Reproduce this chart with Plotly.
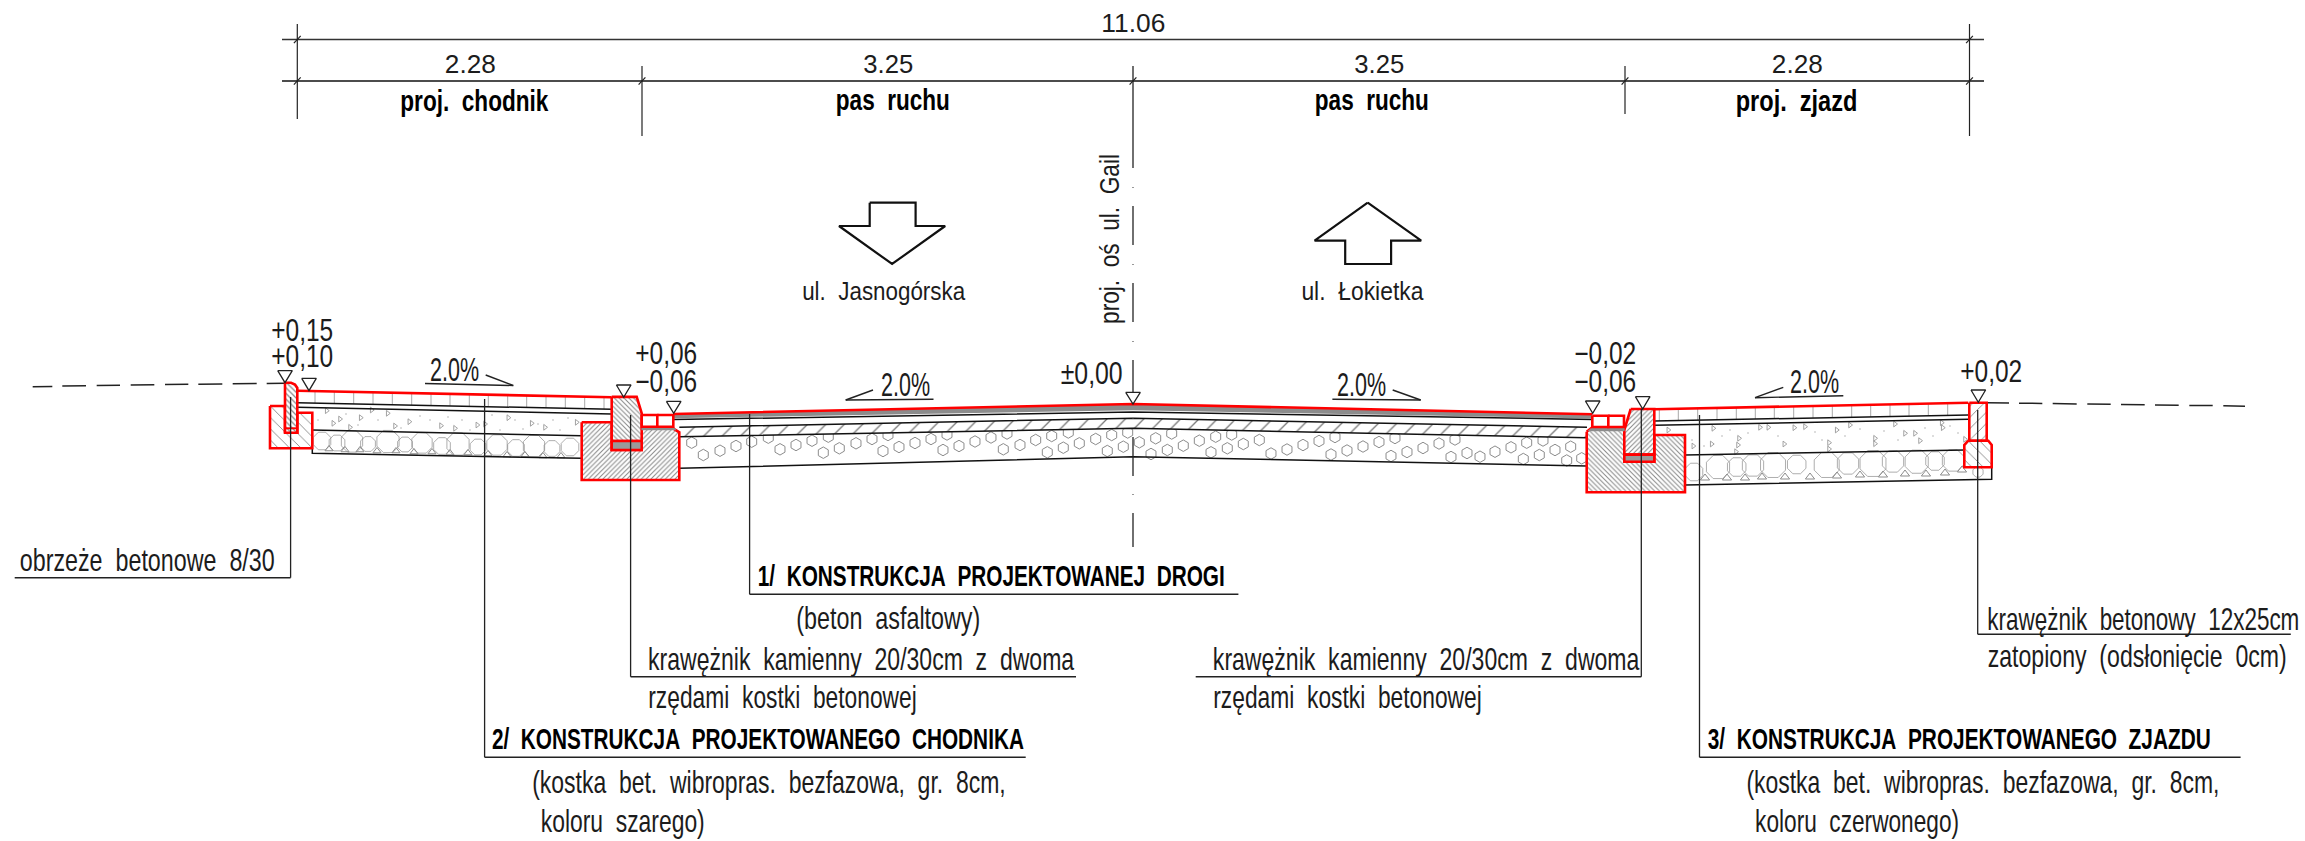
import json
import plotly.graph_objects as go

NB = "\u00a0"
S2 = NB + NB
BLACK = "#111111"
RED = "#ff0000"
FONT = "Liberation Sans"

# ---------- dimension lines (drawing units) ----------
DIM_X = [297.3, 642, 1133, 1625, 1969.5]
DIM_TOP_Y = 39.5
DIM_LOW_Y = 81
DIM_LEFT = 282
DIM_RIGHT = 1984
EXT_X = [297.3, 642, 1625, 1969.5]
EXT_Y0 = [24, 66, 66, 24]
EXT_Y1 = [119, 136, 114, 136]

# centre line dash-dot pieces
AXIS_PIECES_Y0 = [66, 206, 283, 360, 437, 513]
AXIS_PIECES_Y1 = [168, 245, 322, 393, 476, 547]
AXIS_DOTS_Y = [187, 264, 341, 418, 494]
AXIS_X = 1133

# terrain dashes
TERRAIN_L_X = [32.7, 52.3, 62.3, 86, 96.7, 120, 130.7, 154.3, 165, 188.3, 198.3, 222.3, 232.7, 256.7, 266.7, 285]
TERRAIN_L_Y = [386.7, 386.4, 386, 385.8, 385.5, 385.2, 385, 384.7, 384.6, 384.3, 384.2, 383.9, 383.8, 383.5, 383.4, 383.2]
TERRAIN_R_X = [1987, 2009, 2019, 2042.3, 2052.7, 2076.7, 2087.3, 2110.7, 2121, 2144.7, 2155, 2178.7, 2189.3, 2212.7, 2223.3, 2245]
TERRAIN_R_Y = [402.7, 402.9, 403.2, 403.4, 403.6, 403.9, 404, 404.3, 404.4, 404.7, 404.9, 405.2, 405.4, 405.6, 405.8, 406.3]

# ---------- pavement layers ----------
WALK_TOP_X = [297.3, 611.7]
WALK_TOP_Y = [390.7, 397.3]
WALK_L1_X = [297.3, 611.7]
WALK_L1_Y = [402.7, 409.3]
WALK_L2_X = [297.3, 611.7]
WALK_L2_Y = [407.3, 414]
WALK_L3_X = [312.3, 581.7]
WALK_L3_Y = [430, 435.7]
WALK_L4_X = [312.3, 312.3, 581.7]
WALK_L4_Y = [448.3, 453.3, 458.3]
WALK_JOINT_X = [315, 334.3, 353.7, 373, 392.3, 411.7, 431, 450, 469.3, 488.3, 507.7, 526.7, 546, 565.3, 584.7, 604]
WALK_JOINT_TOP = [391, 391.5, 391.9, 392.3, 392.7, 393.1, 393.5, 393.9, 394.3, 394.7, 395.1, 395.5, 395.9, 396.3, 396.8, 397.2]
WALK_JOINT_BOT = [403, 403.5, 403.9, 404.3, 404.7, 405.1, 405.5, 405.9, 406.3, 406.7, 407.1, 407.5, 407.9, 408.3, 408.8, 409.2]

DRIVE_TOP_X = [1654.3, 1968.3]
DRIVE_TOP_Y = [409.3, 402.7]
DRIVE_L1_X = [1654.3, 1968.3]
DRIVE_L1_Y = [421, 415]
DRIVE_L2_X = [1654.3, 1968.3]
DRIVE_L2_Y = [425.3, 419.3]
DRIVE_L3_X = [1685, 1965]
DRIVE_L3_Y = [455, 450]
DRIVE_L4_X = [1685, 1991.7, 1991.7]
DRIVE_L4_Y = [485, 479.3, 466.7]
DRIVE_JOINT_X = [1659.3, 1678.3, 1697.7, 1717, 1736.3, 1755.3, 1774.3, 1793.7, 1813, 1832.3, 1851.7, 1870.7, 1890, 1909, 1928.3, 1947.7]
DRIVE_JOINT_TOP = [409.2, 408.8, 408.4, 408, 407.6, 407.2, 406.8, 406.4, 406, 405.5, 405.1, 404.7, 404.3, 403.9, 403.5, 403.1]
DRIVE_JOINT_BOT = [420.9, 420.5, 420.1, 419.8, 419.4, 419, 418.7, 418.3, 417.9, 417.6, 417.2, 416.8, 416.5, 416.1, 415.7, 415.4]

ROAD_X = [673.3, 1133, 1592.3]
ROAD_TOP_Y = [414, 404, 414.3]
ROAD_GREY_BOT_Y = [418.2, 410.2, 418.4]
ROAD_A_Y = [419.6, 412, 419.4]
ROAD_B_X = [679.3, 1133, 1587]
ROAD_B_Y = [427.3, 418.3, 427.3]
ROAD_C_X = [679.3, 1133, 1587]
ROAD_C_Y = [436.7, 428.3, 437.7]
ROAD_D_X = [679.3, 1133, 1587]
ROAD_D_Y = [468.3, 456.7, 466]

# ---------- kerbs / foundations ----------
EDGE_X = [285, 285, 291, 295, 297.3, 297.3]
EDGE_Y = [432.7, 382.7, 382.7, 384.5, 388, 432.7]
EDGE_BED_X = [285, 297.3]
EDGE_BED_Y = [428.3, 428.3]
EDGE_F_X = [270, 285, 285, 297.3, 297.3, 312.3, 312.3, 270]
EDGE_F_Y = [406, 406, 432.7, 432.7, 412.7, 412.7, 448.3, 448.3]

KERB_L_X = [611.7, 636.7, 641.7, 641.7, 611.7]
KERB_L_Y = [396.9, 396.9, 413.3, 441, 441]
KERB_L_BED_X = [611.7, 641.7, 641.7, 611.7]
KERB_L_BED_Y = [441, 441, 450, 450]
FOUND_L_X = [581.7, 611.7, 611.7, 641.7, 641.7, 673.3, 679.3, 679.3, 581.7]
FOUND_L_Y = [422.3, 422.3, 450, 450, 428.6, 428.6, 432.3, 480, 480]
BLOCK_L_X = [641.7, 657.3, 673.3]
BLOCK_L_Y0 = 415
BLOCK_L_Y1 = 426.7
BAND_L_X = [641.7, 673.3, 676, 641.7]
BAND_L_Y = [426.7, 426.7, 430, 430]

KERB_R_X = [1630.7, 1654.3, 1654.3, 1624.3, 1624.3]
KERB_R_Y = [409, 409, 454.6, 454.6, 430]
KERB_R_BED_X = [1624.3, 1654.3, 1654.3, 1624.3]
KERB_R_BED_Y = [454.6, 454.6, 461.7, 461.7]
FOUND_R_X = [1586.7, 1591.7, 1624.3, 1624.3, 1654.3, 1654.3, 1685, 1685, 1586.7]
FOUND_R_Y = [431.7, 427.7, 427.7, 461.7, 461.7, 435, 435, 492.3, 492.3]
BLOCK_R_X = [1592.3, 1608.3, 1624]
BLOCK_R_Y0 = 415.7
BLOCK_R_Y1 = 427
BAND_R_X = [1591.7, 1624.3, 1624.3, 1588]
BAND_R_Y = [427.7, 427.7, 431, 431]

END_X = [1969.3, 1986.7, 1986.7, 1969.3]
END_Y = [402.7, 402.7, 440.7, 440.7]
END_F_X = [1968.3, 1988.3, 1991.7, 1991.7, 1964.3, 1964.3]
END_F_Y = [440.7, 440.7, 445, 467.3, 467.3, 445]

# ---------- aggregates ----------
ROAD_STONE_X = [691.7, 703.3, 720, 736, 751.7, 768.3, 780, 796, 812, 828.3, 823.3, 839.3, 856, 872, 888,
                883, 899, 915, 931, 947, 943, 959, 975, 991, 1007, 1003.3, 1020, 1035.7, 1051.7, 1068.3,
                1047.3, 1063.3, 1079.3, 1095.7, 1111.7, 1127.7, 1107.3, 1123.3, 1139.3, 1155.7, 1171.7,
                1151, 1167.3, 1183.3, 1199.3, 1215.7, 1231.7, 1211, 1227.3, 1243.3, 1259.3,
                1271, 1287, 1303, 1319, 1335, 1331, 1347, 1363, 1379, 1395, 1391, 1407, 1423, 1439, 1455,
                1451, 1467, 1480, 1495, 1511, 1526.7, 1543, 1523.3, 1539.3, 1555, 1570.7, 1566.7, 1581.7]
ROAD_STONE_Y = [442.7, 455, 450.7, 446, 441.7, 437.7, 449.3, 445, 440.7, 436.7, 452.7, 448.3, 443.3, 439, 435,
                451, 447, 443, 439, 434.5, 450, 446, 441.5, 437.5, 433.5, 449.3, 445, 440, 436, 432.5,
                452.3, 447.7, 443.3, 439, 435, 432.5, 451, 446.7, 442.3, 438.3, 433.5,
                454, 450, 445.7, 440.7, 436.7, 434.5, 452.3, 448.3, 444, 440,
                453.5, 449.5, 445, 441, 437, 454.5, 450.5, 446.5, 442, 438, 456, 452, 448, 443.5, 439.5,
                457, 453, 456.7, 451.7, 447.3, 442.7, 440.5, 459, 455, 450, 446.7, 460.5, 458.3]

WALK_STONE_X = [322, 337, 352, 368, 388, 405, 422, 442, 458, 478, 497, 516, 534, 552, 570]
WALK_STONE_Y = [441, 443, 441.5, 444, 441.5, 444.5, 443, 446, 444, 447, 445, 448, 446, 448.5, 447]
WALK_STONE_S = [19, 17, 23, 16, 24, 16, 22, 18, 24, 17, 22, 18, 23, 17, 19]
WALK_CHIP_X = [329, 345, 360, 377, 396, 414, 432, 450, 468, 488, 507, 525, 543, 561]
WALK_CHIP_Y = [449, 450, 450, 451, 451, 452, 452, 453, 453, 454, 455, 455, 456, 456]

DRIVE_STONE_X = [1694, 1718, 1736.7, 1753, 1773, 1796.7, 1826.7, 1848, 1873, 1893, 1916.7, 1935, 1953, 1978]
DRIVE_STONE_Y = [472, 467, 467, 465.5, 465, 464.5, 465, 463.5, 463.5, 461.5, 461.7, 461, 460.5, 472]
DRIVE_STONE_S = [19, 25, 20, 23, 27, 20, 27, 23, 28, 23, 25, 20, 23, 11]
DRIVE_CHIP_X = [1705, 1727, 1745, 1762, 1785, 1810, 1837, 1860, 1883, 1905, 1926, 1945, 1962]
DRIVE_CHIP_Y = [478, 478, 478, 477, 477, 477, 476, 475, 475, 474, 474, 473, 470]

CHIP_WALK_X = [326.7, 340, 360.7, 371.7, 387.7, 409.3, 441, 455, 477.3, 485, 508.3, 531.7, 545, 576.7, 333.3, 350, 395]
CHIP_WALK_Y = [410.7, 419, 417.7, 410, 413.3, 421.7, 425.7, 428.3, 425, 424, 417.7, 423.3, 427.3, 422.3, 423.3, 427.3, 426]
CHIP_DRIVE_X = [1668.3, 1713.3, 1760, 1768.3, 1794.3, 1805, 1836.7, 1850, 1895, 1905, 1941.7, 1942.7, 1920, 1915, 1875, 1875, 1829, 1829, 1784.3, 1739, 1738, 1736, 1711.7, 1693.3, 1965]
CHIP_DRIVE_Y = [430, 428.3, 427.3, 427.3, 427.7, 426.7, 430, 425, 424, 433.3, 422.7, 427.7, 440.7, 433.3, 438.3, 443.7, 449, 442.7, 444, 438.3, 445, 451.7, 444, 446, 439.3]
SPECK_X = [318, 346, 358, 378, 401, 420, 430, 448, 462, 470, 492, 500, 515, 523, 538, 553, 560, 568,
           1692, 1704, 1722, 1730, 1748, 1778, 1815, 1822, 1845, 1860, 1884, 1898, 1925, 1933, 1950, 1958]
SPECK_Y = [420, 414, 425, 420, 428, 416, 420, 417, 420, 430, 415, 430, 420, 429, 424, 420, 430, 418,
           440, 446, 436, 430, 433, 436, 432, 440, 436, 429, 431, 440, 428, 436, 426, 433]

# ---------- elevation triangles (tip x, tip y) ----------
MARK_TIP_X = [285, 309, 623.7, 673.7, 1133, 1592.7, 1642.7, 1978.3]
MARK_TIP_Y = [382.7, 390.7, 397.3, 413.3, 404, 413.3, 409, 402.3]
MARK_TOP_Y = [370.7, 378.3, 385, 401.3, 392.3, 401, 396.7, 390]

# ---------- slope symbols ----------
SLOPE_BASE_X0 = [425, 845.7, 1332.4, 1755]
SLOPE_BASE_Y0 = [383.5, 400, 399.3, 397.7]
SLOPE_BASE_X1 = [513.3, 933.5, 1420.7, 1843.3]
SLOPE_BASE_Y1 = [385.5, 399.3, 400, 395.7]
SLOPE_TICK_X0 = [485.7, 873, 1392.7, 1783.3]
SLOPE_TICK_Y0 = [375, 390, 390, 387.3]

# ---------- direction arrows ----------
ARROW_DOWN_X = [869.7, 915.6, 915.6, 945.2, 892.1, 839, 869.7, 869.7]
ARROW_DOWN_Y = [202.7, 202.7, 226, 226, 264, 226, 226, 202.7]
ARROW_UP_X = [1367.7, 1421.2, 1391.1, 1391.1, 1345.2, 1345.2, 1314.6, 1367.7]
ARROW_UP_Y = [202.7, 240.7, 240.7, 264, 264, 240.7, 240.7, 202.7]

# ---------- leaders ----------
LEADER_X = [290.6, 484.6, 630.6, 749.6, 1641.3, 1699.5, 1977.7]
LEADER_Y0 = [397, 399, 415, 414, 409, 415, 410]
LEADER_Y1 = [577.7, 757.3, 676.7, 594.3, 676.7, 757.3, 634.3]
SHELF_X0 = [14.7, 484.6, 630.6, 749.6, 1195.7, 1699.5, 1977.7]
SHELF_X1 = [290.6, 1025.7, 1076, 1238.4, 1641.3, 2240.6, 2290.8]

# ---------- texts ----------
TEXT_STRINGS = [
    "11.06", "2.28", "3.25", "3.25", "2.28",
    f"proj.{S2}chodnik", f"pas{S2}ruchu", f"pas{S2}ruchu", f"proj.{S2}zjazd",
    f"ul.{S2}Jasnogórska", f"ul.{S2}Łokietka",
    "±0,00", "+0,15", "+0,10", "+0,06", "−0,06", "−0,02", "−0,06", "+0,02",
    "2.0%", "2.0%", "2.0%", "2.0%",
    f"obrzeże{S2}betonowe{S2}8/30",
    f"1/{S2}KONSTRUKCJA{S2}PROJEKTOWANEJ{S2}DROGI",
    f"(beton{S2}asfaltowy)",
    f"krawężnik{S2}kamienny{S2}20/30cm{S2}z{S2}dwoma",
    f"rzędami{S2}kostki{S2}betonowej",
    f"2/{S2}KONSTRUKCJA{S2}PROJEKTOWANEGO{S2}CHODNIKA",
    f"(kostka{S2}bet.{S2}wibropras.{S2}bezfazowa,{S2}gr.{S2}8cm,",
    f"koloru{S2}szarego)",
    f"krawężnik{S2}kamienny{S2}20/30cm{S2}z{S2}dwoma",
    f"rzędami{S2}kostki{S2}betonowej",
    f"3/{S2}KONSTRUKCJA{S2}PROJEKTOWANEGO{S2}ZJAZDU",
    f"(kostka{S2}bet.{S2}wibropras.{S2}bezfazowa,{S2}gr.{S2}8cm,",
    f"koloru{S2}czerwonego)",
    f"krawężnik{S2}betonowy{S2}12x25cm",
    f"zatopiony{S2}(odsłonięcie{S2}0cm)",
]
TEXT_X = [1133, 470, 888, 1379, 1797, 474.5, 893, 1371.5, 1796, 883.7, 1362,
          1091.5, 301.5, 301.5, 666, 666, 1604.5, 1604.5, 1990.5,
          454, 905, 1361.5, 1814.7,
          146.7, 991.5, 888.7, 860.8, 782, 757.5, 768.5, 622, 1426, 1347, 1959, 1983, 1856.5, 2143.3, 2137]
TEXT_Y = [22.7, 64.3, 64.3, 64.3, 64.3, 100.7, 99.3, 99.3, 100, 291, 291,
          373, 330.7, 356.7, 353.3, 381.7, 353.3, 381.7, 371.7,
          369, 384, 384, 381,
          560, 575, 617.7, 659, 696.7, 738, 781.7, 820.7, 659, 696.7, 738, 781.7, 820.7, 619.3, 655.7]
TEXT_SIZE = [25, 25, 25, 25, 25, 30, 30, 30, 30, 26, 26,
             31, 31, 31, 31, 31, 31, 31, 31,
             33, 33, 33, 33,
             32, 30, 32, 32, 32, 30, 32, 32, 32, 32, 30, 32, 32, 32, 32]
TEXT_BOLD = [False, False, False, False, False, True, True, True, True, False, False,
             False, False, False, False, False, False, False, False,
             False, False, False, False,
             False, True, False, False, False, True, False, False, False, False, True, False, False, False, False]
TEXT_WIDTH = [64, 51, 50, 50, 51, 148, 114, 114, 121.5, 163, 122,
              62, 62, 62, 62, 62, 62, 62, 62,
              49, 49, 49, 49,
              255, 467, 184, 426, 268.5, 532, 473.5, 164, 426.5, 268.5, 503, 473, 204, 312, 299]
AXIS_LABEL = f"proj.{S2}oś{S2}ul.{S2}Gail"
AXIS_LABEL_WIDTH = 170

fig = go.Figure()


def line(xs, ys, color=BLACK, width=1.5):
    fig.add_trace(go.Scatter(x=xs, y=ys, mode="lines", line=dict(color=color, width=width),
                             hoverinfo="skip", showlegend=False))


def poly(xs, ys, shape=None, size=4, solidity=0.25, fg="#555555", bg="#ffffff", fill=None,
         outline=RED, width=2.6):
    kw = dict(fillcolor=fill) if fill else {}
    if shape:
        kw["fillpattern"] = dict(shape=shape, size=size, solidity=solidity, fgcolor=fg,
                                 bgcolor=bg, fillmode="replace")
    fig.add_trace(go.Scatter(x=list(xs) + [xs[0]], y=list(ys) + [ys[0]], mode="lines", fill="toself",
                             line=dict(color=outline, width=width), hoverinfo="skip",
                             showlegend=False, **kw))


def marks(xs, ys, symbol, size, color="#8c8c8c", width=1.0):
    fig.add_trace(go.Scatter(x=xs, y=ys, mode="markers", hoverinfo="skip", showlegend=False,
                             marker=dict(symbol=symbol, size=size, color=color,
                                         line=dict(color=color, width=width))))


# aggregates and light fill
marks(ROAD_STONE_X, ROAD_STONE_Y, "hexagon-open", 11.5)
marks(WALK_STONE_X, WALK_STONE_Y, "octagon-open", WALK_STONE_S)
marks(WALK_CHIP_X, WALK_CHIP_Y, "triangle-up-open", 7)
marks(DRIVE_STONE_X, DRIVE_STONE_Y, "octagon-open", DRIVE_STONE_S)
marks(DRIVE_CHIP_X, DRIVE_CHIP_Y, "triangle-up-open", 8)
marks(CHIP_WALK_X, CHIP_WALK_Y, "triangle-right-open", 5, "#999999", 0.9)
marks(CHIP_DRIVE_X, CHIP_DRIVE_Y, "triangle-right-open", 5, "#999999", 0.9)
marks(SPECK_X, SPECK_Y, "circle", 1.5, "#aaaaaa", 0)

# road hatch band
poly(ROAD_B_X + ROAD_C_X[::-1], ROAD_B_Y + ROAD_C_Y[::-1], shape="/", size=13, solidity=0.1,
     fg="#777777", outline="rgba(0,0,0,0)", width=0)

# joints
for jx, j0, j1 in zip(WALK_JOINT_X, WALK_JOINT_TOP, WALK_JOINT_BOT):
    line([jx, jx], [j0, j1], "#a8a8a8", 1)
for jx, j0, j1 in zip(DRIVE_JOINT_X, DRIVE_JOINT_TOP, DRIVE_JOINT_BOT):
    line([jx, jx], [j0, j1], "#a8a8a8", 1)

# layer lines
line(WALK_L1_X, WALK_L1_Y)
line(WALK_L2_X, WALK_L2_Y)
line(WALK_L3_X, WALK_L3_Y)
line(WALK_L4_X, WALK_L4_Y)
line(DRIVE_L1_X, DRIVE_L1_Y)
line(DRIVE_L2_X, DRIVE_L2_Y)
line(DRIVE_L3_X, DRIVE_L3_Y)
line(DRIVE_L4_X, DRIVE_L4_Y)
poly(ROAD_X + ROAD_X[::-1], ROAD_TOP_Y + ROAD_GREY_BOT_Y[::-1], fill="#8c8c8c", outline="rgba(0,0,0,0)", width=0)
line(ROAD_X, ROAD_A_Y)
line(ROAD_B_X, ROAD_B_Y)
line(ROAD_C_X, ROAD_C_Y)
line(ROAD_D_X, ROAD_D_Y)

# terrain
for seq_x, seq_y in ((TERRAIN_L_X, TERRAIN_L_Y), (TERRAIN_R_X, TERRAIN_R_Y)):
    for i in range(0, len(seq_x), 2):
        line(seq_x[i:i + 2], seq_y[i:i + 2], "#222222", 1.5)

# red structures
poly(EDGE_F_X, EDGE_F_Y, "\\", 8, 0.1, "#777777")
poly(EDGE_X, EDGE_Y, "\\", 4, 0.3, "#888888")
line(EDGE_BED_X, EDGE_BED_Y, RED, 2)
poly(FOUND_L_X, FOUND_L_Y, "/", 3.4, 0.3, "#888888")
poly(KERB_L_X, KERB_L_Y, "\\", 3.4, 0.3, "#888888")
poly(KERB_L_BED_X, KERB_L_BED_Y, fill="#9a9a9a")
poly(BAND_L_X, BAND_L_Y, fill="#8c8c8c", outline="#8c8c8c", width=0.5)
for i in range(2):
    poly([BLOCK_L_X[i], BLOCK_L_X[i + 1], BLOCK_L_X[i + 1], BLOCK_L_X[i]],
         [BLOCK_L_Y0, BLOCK_L_Y0, BLOCK_L_Y1, BLOCK_L_Y1], fill="#ffffff")
poly(FOUND_R_X, FOUND_R_Y, "\\", 3.4, 0.3, "#888888")
poly(KERB_R_X, KERB_R_Y, "/", 3.4, 0.3, "#888888")
poly(KERB_R_BED_X, KERB_R_BED_Y, fill="#9a9a9a")
poly(BAND_R_X, BAND_R_Y, fill="#8c8c8c", outline="#8c8c8c", width=0.5)
for i in range(2):
    poly([BLOCK_R_X[i], BLOCK_R_X[i + 1], BLOCK_R_X[i + 1], BLOCK_R_X[i]],
         [BLOCK_R_Y0, BLOCK_R_Y0, BLOCK_R_Y1, BLOCK_R_Y1], fill="#ffffff")
poly(END_X, END_Y, "/", 8, 0.1, "#777777")
poly(END_F_X, END_F_Y, "\\", 8, 0.1, "#777777")
line(WALK_TOP_X, WALK_TOP_Y, RED, 2.6)
line(DRIVE_TOP_X, DRIVE_TOP_Y, RED, 2.6)
line(ROAD_X, ROAD_TOP_Y, RED, 2.6)

# leaders
for lx, y0, y1, s0, s1 in zip(LEADER_X, LEADER_Y0, LEADER_Y1, SHELF_X0, SHELF_X1):
    line([lx, lx], [y0, y1], "#222222", 1.3)
    line([s0, s1], [y1, y1], "#222222", 1.6)

# dimensions
line([DIM_LEFT, DIM_RIGHT], [DIM_TOP_Y, DIM_TOP_Y], "#333333", 1.6)
line([DIM_LEFT, DIM_RIGHT], [DIM_LOW_Y, DIM_LOW_Y], "#111111", 1.4)
for ex, y0, y1 in zip(EXT_X, EXT_Y0, EXT_Y1):
    line([ex, ex], [y0, y1], "#222222", 1.2)
for dx in DIM_X:
    line([dx - 3.4, dx + 3.4], [DIM_LOW_Y + 3.6, DIM_LOW_Y - 3.6], "#222222", 1.2)
for dx in (DIM_X[0], DIM_X[-1]):
    line([dx - 3.4, dx + 3.4], [DIM_TOP_Y + 3.6, DIM_TOP_Y - 3.6], "#222222", 1.2)

# axis
for y0, y1 in zip(AXIS_PIECES_Y0, AXIS_PIECES_Y1):
    line([AXIS_X, AXIS_X], [y0, y1], "#222222", 1.3)
for yd in AXIS_DOTS_Y:
    line([AXIS_X, AXIS_X], [yd, yd + 1], "#444444", 1.1)

# elevation triangles
for tx, ty, ty0 in zip(MARK_TIP_X, MARK_TIP_Y, MARK_TOP_Y):
    line([tx - 7.3, tx + 7.3, tx, tx - 7.3], [ty0, ty0, ty, ty0], "#222222", 1.3)

# slope symbols
for x0, y0, x1, y1, tx, ty in zip(SLOPE_BASE_X0, SLOPE_BASE_Y0, SLOPE_BASE_X1, SLOPE_BASE_Y1,
                                  SLOPE_TICK_X0, SLOPE_TICK_Y0):
    line([x0, x1], [y0, y1], "#222222", 1.4)
    end_x, end_y = (x1, y1) if tx > (x0 + x1) / 2 else (x0, y0)
    line([tx, end_x], [ty, end_y], "#222222", 1.4)

# arrows
line(ARROW_DOWN_X, ARROW_DOWN_Y, "#111111", 2.2)
line(ARROW_UP_X, ARROW_UP_Y, "#111111", 2.2)

annotations = []
for text, tx, ty, size, bold in zip(TEXT_STRINGS, TEXT_X, TEXT_Y, TEXT_SIZE, TEXT_BOLD):
    annotations.append(dict(x=tx, y=ty, text=text, showarrow=False, xanchor="center", yanchor="middle",
                            font=dict(family=FONT, size=size, weight=700 if bold else 400,
                                      color="#000000" if bold else "#1c1c1c"),
                            xref="x", yref="y"))
annotations.append(dict(x=1109, y=239, text=AXIS_LABEL, textangle=-90, showarrow=False,
                        xanchor="center", yanchor="middle", xref="x", yref="y",
                        font=dict(family=FONT, size=28, color="#1c1c1c")))

fig.update_layout(
    width=2305, height=841, margin=dict(l=0, r=0, t=0, b=0),
    paper_bgcolor="#ffffff", plot_bgcolor="#ffffff", showlegend=False,
    xaxis=dict(range=[0, 2305], visible=False, fixedrange=True),
    yaxis=dict(range=[841, 0], visible=False, fixedrange=True),
    annotations=annotations,
)

# The drawing's lettering is a narrow CAD face: squeeze each real text to its measured run length.
squeeze = json.dumps(TEXT_WIDTH + [AXIS_LABEL_WIDTH])
fig.write_html(
    "out.html", config={"displayModeBar": False},
    post_script=(
        "document.body.style.margin='0';document.body.style.overflow='hidden';"
        f"var W={squeeze};"
        "document.querySelectorAll('.annotation-text').forEach(function(t,i){"
        "t.setAttribute('textLength',W[i]);t.setAttribute('lengthAdjust','spacingAndGlyphs');});"
    ),
)
